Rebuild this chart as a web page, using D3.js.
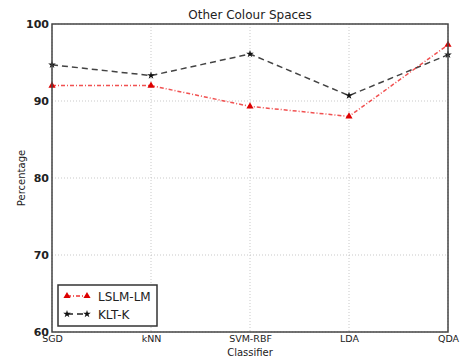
<!DOCTYPE html>
<html lang="en">
  <head>
    <meta charset="utf-8">
    <title>Other Colour Spaces</title>
    <script src="https://d3js.org/d3.v7.min.js"></script>
    <style>
      body { margin: 0; background: #fff; }
      text { font-family: "DejaVu Sans", sans-serif; fill: #222; }
    </style>
  </head>
  <body>
    <script type="text/javascript">
      var classifiers = ["SGD", "kNN", "SVM-RBF", "LDA", "QDA"];
      var lslm = [92.0, 92.0, 89.3, 88.0, 97.3];
      var klt = [94.7, 93.3, 96.1, 90.7, 96.0];
      var yTicks = [60, 70, 80, 90, 100];

      var w = 461, h = 360;
      var padL = 52, padR = 448, padT = 24, padB = 332;

      var svg = d3.select("body").append("svg")
        .attr("width", w).attr("height", h);

      var xScale = d3.scalePoint().domain(classifiers).range([padL, padR]);
      var yScale = d3.scaleLinear().domain([60, 100]).range([padB, padT]);

      // grid
      svg.append("g").selectAll("line")
        .data(classifiers).enter().append("line")
        .attr("x1", d => xScale(d)).attr("x2", d => xScale(d))
        .attr("y1", padT).attr("y2", padB)
        .attr("stroke", "#bbb").attr("stroke-width", 0.8).attr("stroke-dasharray", "1,2");
      svg.append("g").selectAll("line")
        .data(yTicks).enter().append("line")
        .attr("x1", padL).attr("x2", padR)
        .attr("y1", d => yScale(d)).attr("y2", d => yScale(d))
        .attr("stroke", "#bbb").attr("stroke-width", 0.8).attr("stroke-dasharray", "1,2");

      // axes
      var yAxis = d3.axisLeft(yScale).tickValues(yTicks).tickSize(0).tickPadding(3);
      var gy = svg.append("g").attr("transform", "translate(" + padL + ",0)").call(yAxis);
      gy.select(".domain").remove();
      gy.selectAll("text").attr("font-size", 11).attr("font-weight", "bold").attr("fill", "#333")
        .attr("font-family", "DejaVu Sans");

      var xAxis = d3.axisBottom(xScale).tickSize(0).tickPadding(3);
      var gx = svg.append("g").attr("transform", "translate(0," + padB + ")").call(xAxis);
      gx.select(".domain").remove();
      gx.selectAll("text").attr("font-size", 9.5).attr("fill", "#333")
        .attr("font-family", "DejaVu Sans");

      // lines
      var line = d3.line().x((d, i) => xScale(classifiers[i])).y(d => yScale(d));

      svg.append("path").datum(klt).attr("d", line)
        .attr("fill", "none").attr("stroke", "#222").attr("stroke-width", 1.5)
        .attr("stroke-dasharray", "6,4").attr("opacity", 0.85);
      svg.append("path").datum(lslm).attr("d", line)
        .attr("fill", "none").attr("stroke", "#e33").attr("stroke-width", 1.5)
        .attr("stroke-dasharray", "4,2,1,2").attr("opacity", 0.85);

      var star = d3.symbol().type(d3.symbolStar).size(18);
      var tri = d3.symbol().type(d3.symbolTriangle).size(22);

      svg.append("g").selectAll("path")
        .data(klt).enter().append("path")
        .attr("d", star)
        .attr("transform", (d, i) => "translate(" + xScale(classifiers[i]) + "," + yScale(d) + ")")
        .attr("fill", "#111");
      svg.append("g").selectAll("path")
        .data(lslm).enter().append("path")
        .attr("d", tri)
        .attr("transform", (d, i) => "translate(" + xScale(classifiers[i]) + "," + yScale(d) + ")")
        .attr("fill", "#d00");

      // frame
      svg.append("rect").attr("x", padL).attr("y", padT)
        .attr("width", padR - padL).attr("height", padB - padT)
        .attr("fill", "none").attr("stroke", "#444").attr("stroke-width", 1.5);

      // titles
      svg.append("text").attr("x", (padL + padR) / 2).attr("y", 19)
        .attr("text-anchor", "middle").attr("font-size", 12).text("Other Colour Spaces");
      svg.append("text").attr("x", (padL + padR) / 2).attr("y", 356)
        .attr("text-anchor", "middle").attr("font-size", 10).text("Classifier");
      svg.append("text").attr("transform", "translate(25," + ((padT + padB) / 2) + ") rotate(-90)")
        .attr("text-anchor", "middle").attr("font-size", 10).text("Percentage");

      // legend
      var lg = svg.append("g");
      lg.append("rect").attr("x", 58).attr("y", 285).attr("width", 99).attr("height", 41)
        .attr("fill", "#fff").attr("stroke", "#333").attr("stroke-width", 1.5);
      var entries = [
        { name: "LSLM-LM", color: "#e33", dash: "4,2,1,2", mark: tri, mfill: "#d00" },
        { name: "KLT-K", color: "#222", dash: "6,4", mark: star, mfill: "#111" }
      ];
      entries.forEach(function(e, i) {
        var y = 296 + i * 18;
        lg.append("line").attr("x1", 67).attr("x2", 87).attr("y1", y).attr("y2", y)
          .attr("stroke", e.color).attr("stroke-width", 1.5).attr("stroke-dasharray", e.dash);
        [67, 87].forEach(function(x) {
          lg.append("path").attr("d", e.mark).attr("transform", "translate(" + x + "," + y + ")")
            .attr("fill", e.mfill);
        });
        lg.append("text").attr("x", 98).attr("y", y + 4.5).attr("font-size", 12).text(e.name);
      });
    </script>
  </body>
</html>
